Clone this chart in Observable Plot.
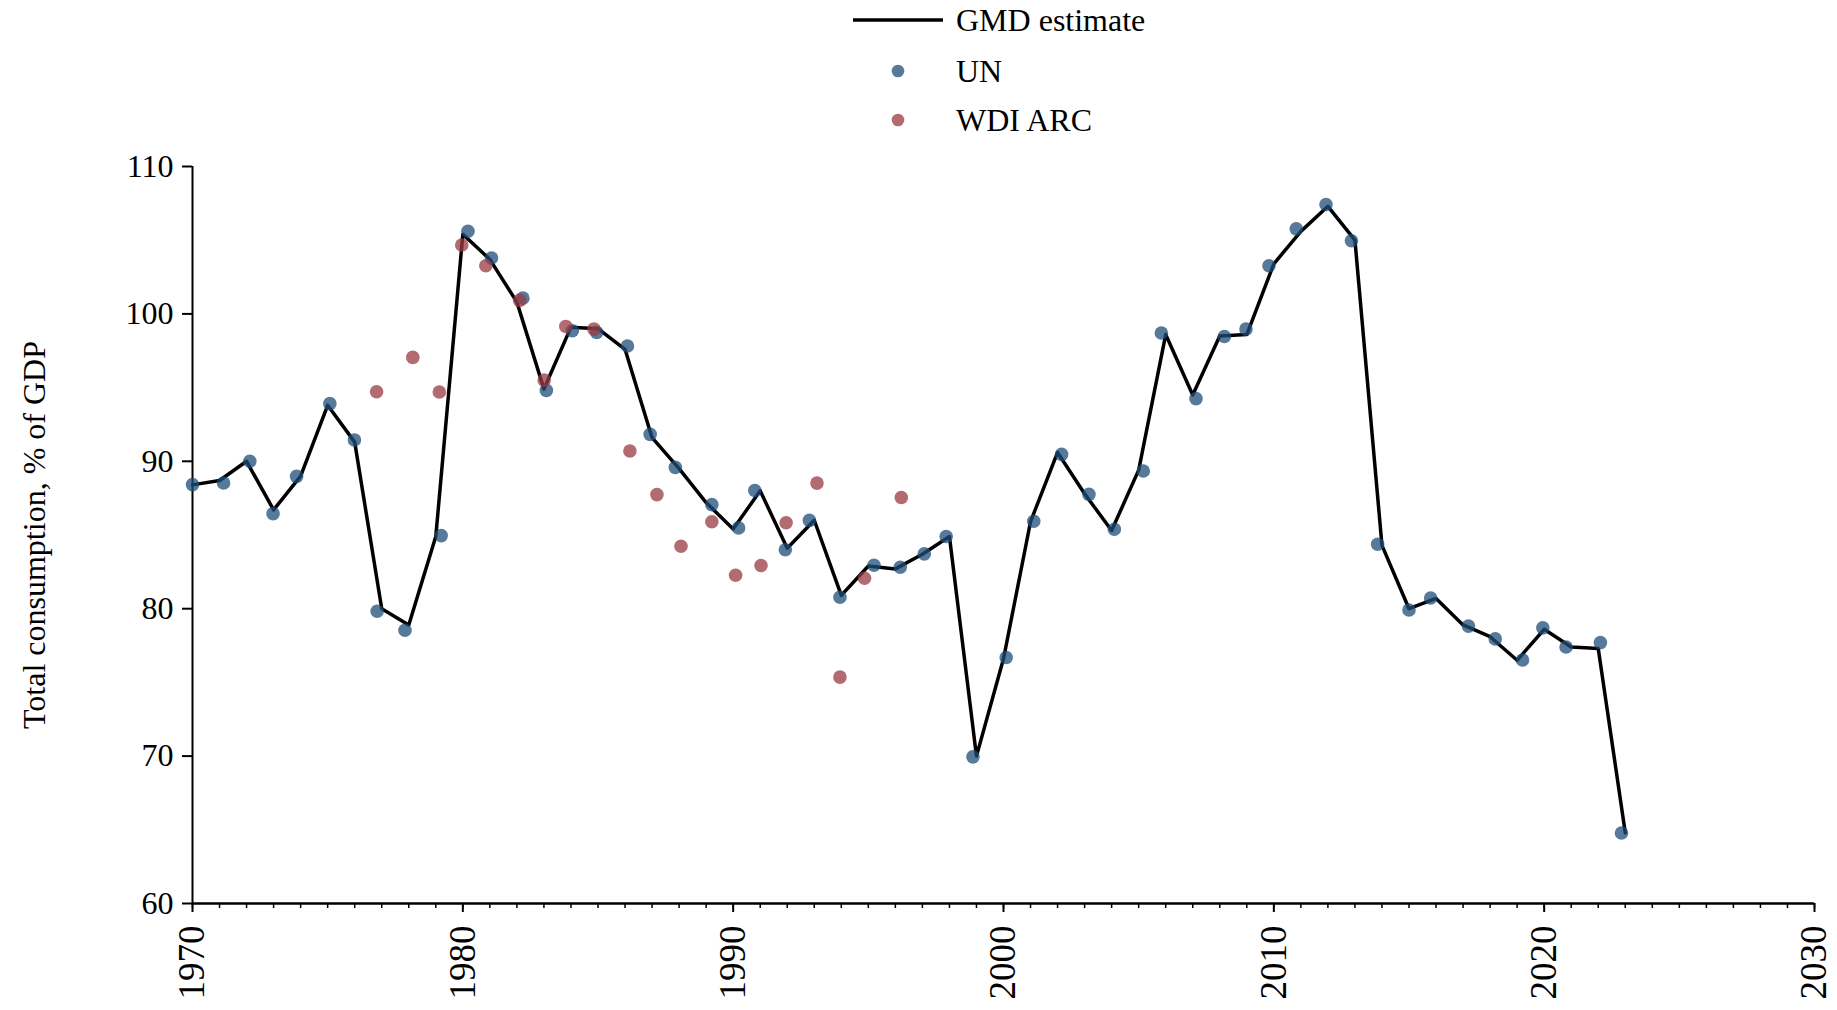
<!DOCTYPE html>
<html>
<head>
<meta charset="utf-8">
<script src="https://cdn.jsdelivr.net/npm/d3@7"></script>
<script src="https://cdn.jsdelivr.net/npm/@observablehq/plot@0.6"></script>
<style>
  body { margin: 0; background: #fff; font-family: "Liberation Serif", "Times New Roman", serif; }
  #legend { position: relative; width: 1837px; height: 140px; }
  .item { position: absolute; left: 853px; height: 40px; display: flex; align-items: center; font-size: 32px; color: #000; white-space: nowrap; }
  .item svg { margin-right: 13px; }
</style>
</head>
<body>
<div id="legend"></div>
<div id="chart"></div>
<script>
// ---- data ----
const gmdYears = [1970,1971,1972,1973,1974,1975,1976,1977,1978,1979,
  1980,1981,1982,1983,1984,1985,1986,1987,1988,1989,
  1990,1991,1992,1993,1994,1995,1996,1997,1998,1999,
  2000,2001,2002,2003,2004,2005,2006,2007,2008,2009,
  2010,2011,2012,2013,2014,2015,2016,2017,2018,2019,
  2020,2021,2022,2023];
const gmdValues = [88.4,88.7,90.0,86.7,89.0,93.8,91.3,80.0,78.9,84.9,
  105.4,103.7,100.8,94.9,99.1,99.0,97.6,91.6,89.5,87.2,
  85.4,88.0,84.1,86.0,80.9,82.9,82.7,83.7,84.9,70.0,
  76.6,85.9,90.6,87.8,85.3,89.4,98.6,94.5,98.5,98.6,
  103.4,105.6,107.3,105.0,84.3,80.0,80.7,78.9,78.1,76.5,
  78.6,77.4,77.3,64.8];

const unYears = [1970.0,1971.15,1972.12,1972.98,1973.85,1975.08,1975.99,1976.83,1977.86,1979.2,
  1980.19,1981.06,1982.22,1983.09,1984.05,1984.95,1986.09,1986.93,1987.86,1989.21,
  1990.2,1990.8,1991.93,1992.82,1993.95,1995.21,1996.18,1997.07,1997.88,1998.87,
  2000.1,2001.12,2002.15,2003.16,2004.1,2005.17,2005.84,2007.12,2008.17,2008.97,
  2009.82,2010.83,2011.93,2012.87,2013.84,2015.0,2015.8,2017.2,2018.19,2019.2,
  2019.95,2020.81,2022.08,2022.86];
const unValues = [88.42,88.53,90.0,86.45,88.98,93.91,91.45,79.83,78.54,84.96,
  105.61,103.79,101.07,94.81,98.86,98.75,97.82,91.83,89.59,87.06,
  85.48,88.02,84.0,85.99,80.78,82.95,82.81,83.72,84.9,69.95,
  76.69,85.93,90.47,87.76,85.39,89.34,98.70,94.25,98.47,98.97,
  103.27,105.77,107.42,104.96,84.37,79.91,80.73,78.82,77.95,76.52,
  78.7,77.40,77.70,64.78];

const wdiYears = [1976.81,1978.15,1979.13,1979.96,1980.85,1982.1,1983.01,1983.81,1984.85,1986.18,
  1987.18,1988.07,1989.21,1990.09,1991.03,1991.96,1993.1,1993.95,1994.86,1996.22];
const wdiValues = [94.72,97.05,94.70,104.67,103.27,100.92,95.51,99.15,98.97,90.7,
  87.74,84.24,85.9,82.27,82.93,85.83,88.52,75.36,82.07,87.54];

const xMajorTicks = [1970,1980,1990,2000,2010,2020,2030];
const xMinorTicks = [1970,1971,1972,1973,1974,1975,1976,1977,1978,1979,1980,1981,1982,1983,1984,1985,1986,1987,1988,1989,
  1990,1991,1992,1993,1994,1995,1996,1997,1998,1999,2000,2001,2002,2003,2004,2005,2006,2007,2008,2009,
  2010,2011,2012,2013,2014,2015,2016,2017,2018,2019,2020,2021,2022,2023,2024,2025,2026,2027,2028,2029,2030];
const yTicks = [60,70,80,90,100,110];
const yLabel = "Total consumption, % of GDP";
const seriesNames = ["GMD estimate", "UN", "WDI ARC"];
const unColor = "#1f4e79";
const wdiColor = "#9a3a43";

// ---- tables ----
const gmd = gmdYears.map((year, i) => ({year, value: gmdValues[i]}));
const un = unYears.map((year, i) => ({year, value: unValues[i]}));
const wdi = wdiYears.map((year, i) => ({year, value: wdiValues[i]}));

// ---- legend ----
const legend = document.getElementById("legend");
const legendSpec = [
  {name: seriesNames[0], kind: "line", top: 0},
  {name: seriesNames[1], kind: "dot", color: unColor, top: 51},
  {name: seriesNames[2], kind: "dot", color: wdiColor, top: 100}
];
for (const s of legendSpec) {
  const div = document.createElement("div");
  div.className = "item";
  div.style.top = s.top + "px";
  const sw = s.kind === "line"
    ? `<svg width="90" height="40"><line x1="0" x2="90" y1="20" y2="20" stroke="#000" stroke-width="3.5"/></svg>`
    : `<svg width="90" height="40"><circle cx="45" cy="20" r="6.3" fill="${s.color}" fill-opacity="0.75"/></svg>`;
  div.innerHTML = sw + `<span>${s.name}</span>`;
  legend.appendChild(div);
}

// ---- chart ----
const chart = Plot.plot({
  width: 1837,
  height: 870,
  marginLeft: 192,
  marginRight: 23,
  marginTop: 26,
  marginBottom: 107,
  style: {fontFamily: '"Liberation Serif", "Times New Roman", serif', fontSize: "32px", color: "#000", background: "#fff", overflow: "visible"},
  x: {domain: [1970, 2030], label: null},
  y: {domain: [60, 110], label: null},
  marks: [
    Plot.axisY({ticks: yTicks, tickSize: 10, tickPadding: 9, strokeWidth: 2, fontSize: 32,
      label: yLabel, labelAnchor: "center", labelOffset: 170, labelArrow: "none"}),
    Plot.axisX({ticks: xMinorTicks, tickSize: 5, strokeWidth: 1.5, tickFormat: () => "", label: null}),
    Plot.axisX({ticks: xMajorTicks, tickSize: 9, tickPadding: 13, tickRotate: -90, strokeWidth: 2,
      fontSize: 37, tickFormat: d => String(d), label: null}),
    Plot.ruleX([1970], {y1: 60, y2: 110, strokeWidth: 2}),
    Plot.ruleY([60], {x1: 1970, x2: 2030, strokeWidth: 2.5}),
    Plot.line(gmd, {x: "year", y: "value", stroke: "#000", strokeWidth: 3.5}),
    Plot.dot(un, {x: "year", y: "value", r: 6.8, fill: unColor, fillOpacity: 0.75}),
    Plot.dot(wdi, {x: "year", y: "value", r: 6.8, fill: wdiColor, fillOpacity: 0.75})
  ]
});
document.getElementById("chart").appendChild(chart);
</script>
</body>
</html>
